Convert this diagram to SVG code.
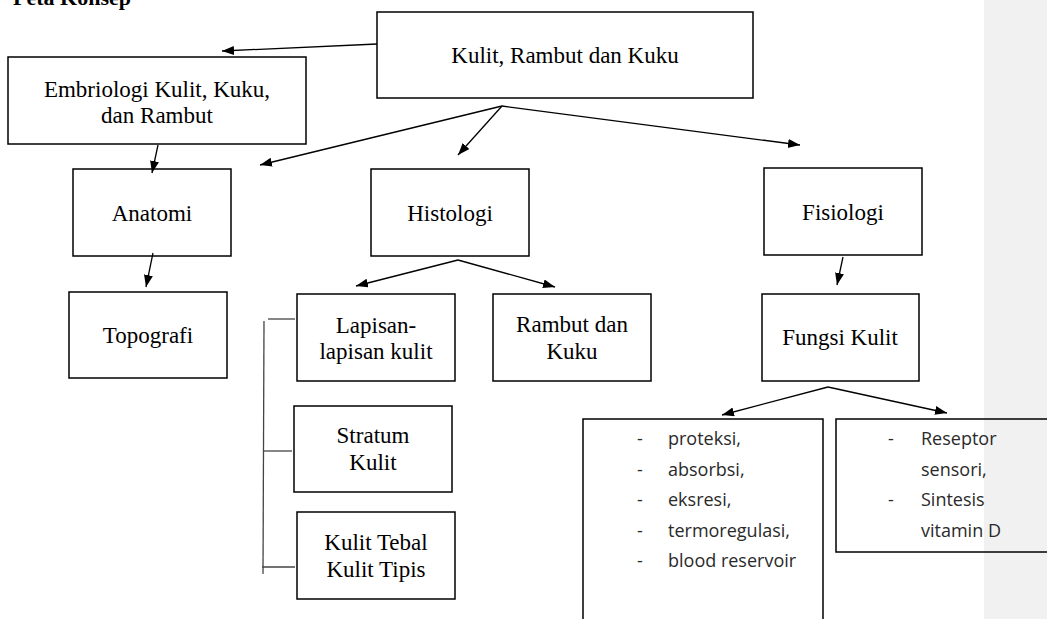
<svg xmlns="http://www.w3.org/2000/svg" width="1047" height="619" viewBox="0 0 1047 619">
<defs>
<marker id="ah" markerUnits="userSpaceOnUse" markerWidth="14" markerHeight="10" refX="12" refY="4.5" orient="auto"><path d="M0,0 L12,4.5 L0,9 z" fill="#000"/></marker>
<style>
.box{fill:none;stroke:#000;stroke-width:1.5}
.t{font-family:"Liberation Serif","Times New Roman",serif;font-size:23px;fill:#000;text-anchor:middle}
.s{font-family:"Open Sans","Liberation Sans",sans-serif;font-size:18px;fill:#2a2a2a}
.c{stroke:#000;stroke-width:1.3;fill:none}
.c2{stroke:#444;stroke-width:1.3;fill:none}
</style>
</defs>
<rect width="1047" height="619" fill="#fff"/>
<rect x="984" y="0" width="63" height="619" fill="#f1f1f1"/>
<text x="13" y="5" font-family="'Liberation Serif','Times New Roman',serif" font-size="22" font-weight="bold">Peta Konsep</text>
<g id="connectors">
<line class="c" x1="377" y1="44" x2="222" y2="51" marker-end="url(#ah)"/>
<line class="c" x1="158" y1="145" x2="152" y2="173" marker-end="url(#ah)"/>
<line class="c" x1="502" y1="106" x2="260" y2="165" marker-end="url(#ah)"/>
<line class="c" x1="502" y1="106" x2="458" y2="155" marker-end="url(#ah)"/>
<line class="c" x1="502" y1="106" x2="800" y2="145" marker-end="url(#ah)"/>
<line class="c" x1="153" y1="253" x2="146" y2="287" marker-end="url(#ah)"/>
<line class="c" x1="458" y1="260" x2="356" y2="286" marker-end="url(#ah)"/>
<line class="c" x1="458" y1="260" x2="555" y2="287" marker-end="url(#ah)"/>
<line class="c" x1="843" y1="257" x2="837" y2="285" marker-end="url(#ah)"/>
<line class="c" x1="828" y1="387" x2="722" y2="415" marker-end="url(#ah)"/>
<line class="c" x1="828" y1="387" x2="947" y2="413" marker-end="url(#ah)"/>
<line class="c2" x1="264" y1="321" x2="263" y2="574"/>
<line class="c2" x1="268" y1="319" x2="295" y2="319"/>
<line class="c2" x1="264" y1="451" x2="292" y2="451"/>
<line class="c2" x1="262" y1="567" x2="295" y2="567"/>
</g>
<g id="root"><rect class="box" x="377" y="12" width="376" height="86"/><text class="t" x="565" y="63">Kulit, Rambut dan Kuku</text></g>
<g id="embriologi"><rect class="box" x="8" y="57" width="298" height="87"/><text class="t" x="157" y="97">Embriologi Kulit, Kuku,</text><text class="t" x="157" y="123">dan Rambut</text></g>
<g id="anatomi"><rect class="box" x="73" y="169" width="158" height="87"/><text class="t" x="152" y="221">Anatomi</text></g>
<g id="topografi"><rect class="box" x="69" y="292" width="158" height="86"/><text class="t" x="148" y="343">Topografi</text></g>
<g id="histologi"><rect class="box" x="371" y="169" width="158" height="87"/><text class="t" x="450" y="221">Histologi</text></g>
<g id="fisiologi"><rect class="box" x="764" y="168" width="158" height="87"/><text class="t" x="843" y="220">Fisiologi</text></g>
<g id="lapisan"><rect class="box" x="297" y="294" width="158" height="87"/><text class="t" x="376" y="333">Lapisan-</text><text class="t" x="376" y="359">lapisan kulit</text></g>
<g id="rambut-kuku"><rect class="box" x="493" y="294" width="158" height="87"/><text class="t" x="572" y="332">Rambut dan</text><text class="t" x="572" y="359">Kuku</text></g>
<g id="stratum"><rect class="box" x="294" y="406" width="158" height="86"/><text class="t" x="373" y="443">Stratum</text><text class="t" x="373" y="470">Kulit</text></g>
<g id="tebal-tipis"><rect class="box" x="297" y="512" width="158" height="87"/><text class="t" x="376" y="550">Kulit Tebal</text><text class="t" x="376" y="577">Kulit Tipis</text></g>
<g id="fungsi"><rect class="box" x="762" y="294" width="157" height="87"/><text class="t" x="840" y="345">Fungsi Kulit</text></g>
<g id="fungsi-list1"><rect class="box" x="583" y="419" width="240" height="220"/>
<text class="s" x="637" y="445">-</text><text class="s" x="668" y="445">proteksi,</text>
<text class="s" x="637" y="476">-</text><text class="s" x="668" y="476">absorbsi,</text>
<text class="s" x="637" y="506">-</text><text class="s" x="668" y="506">eksresi,</text>
<text class="s" x="637" y="537">-</text><text class="s" x="668" y="537">termoregulasi,</text>
<text class="s" x="637" y="567">-</text><text class="s" x="668" y="567">blood reservoir</text>
</g>
<g id="fungsi-list2"><rect class="box" x="836" y="419" width="230" height="133"/>
<text class="s" x="888" y="445">-</text><text class="s" x="921" y="445">Reseptor</text>
<text class="s" x="921" y="476">sensori,</text>
<text class="s" x="888" y="506">-</text><text class="s" x="921" y="506">Sintesis</text>
<text class="s" x="921" y="537">vitamin D</text>
</g>
</svg>
